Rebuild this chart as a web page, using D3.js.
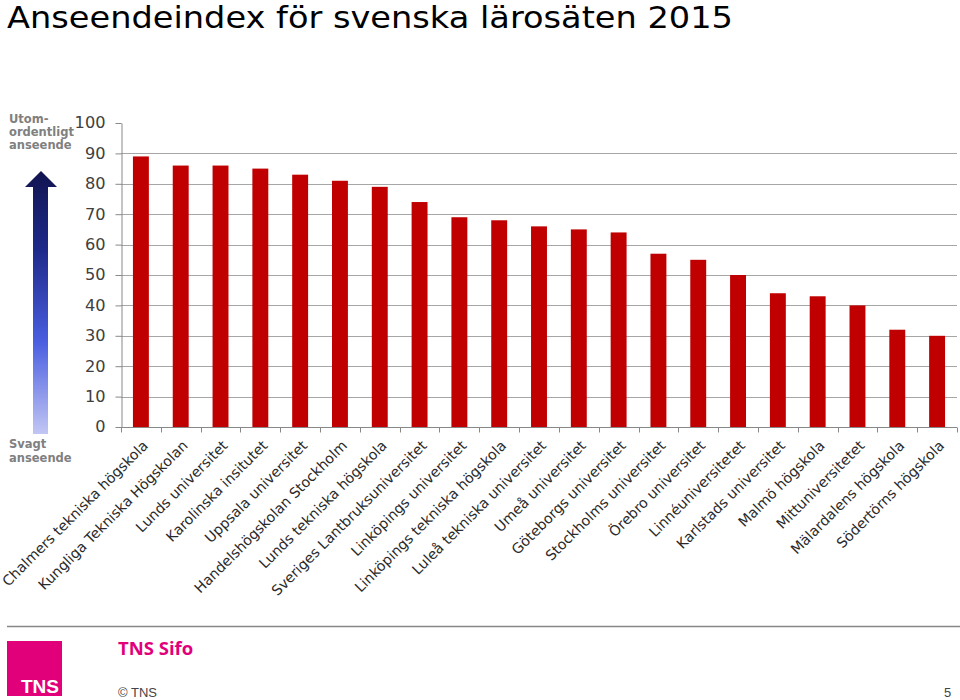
<!DOCTYPE html>
<html><head><meta charset="utf-8">
<script src="https://cdn.jsdelivr.net/npm/d3@7"></script>
<style>
body{margin:0;background:#fff;}
svg{display:block;font-family:"DejaVu Sans",Verdana,sans-serif;}
</style></head>
<body><svg id="c" width="960" height="700"></svg>
<script>
const categories = ["Chalmers tekniska högskola","Kungliga Tekniska Högskolan","Lunds universitet","Karolinska insitutet","Uppsala universitet","Handelshögskolan Stockholm","Lunds tekniska högskola","Sveriges Lantbruksuniversitet","Linköpings universitet","Linköpings tekniska högskola","Luleå tekniska universitet","Umeå universitet","Göteborgs universitet","Stockholms universitet","Örebro universitet","Linnéuniversitetet","Karlstads universitet","Malmö högskola","Mittuniversitetet","Mälardalens högskola","Södertörns högskola"];
const values = [89,86,86,85,83,81,79,74,69,68,66,65,64,57,55,50,44,43,40,32,30];
const yTicks = [0,10,20,30,40,50,60,70,80,90,100];
const title = "Anseendeindex för svenska lärosäten 2015";

const svg = d3.select("#c");
const x0 = 121, x1 = 957, yTop = 123, yBot = 427;
const x = d3.scaleBand().domain(categories).range([x0, x1]).paddingInner(0.6).paddingOuter(0.3);
const y = d3.scaleLinear().domain([0,100]).range([yBot, yTop]);

svg.append("text").attr("x",7).attr("y",28).attr("font-size",31)
  .attr("textLength",726).attr("lengthAdjust","spacingAndGlyphs").attr("fill","#000").text(title);

// gridlines
svg.append("g").selectAll("line").data(yTicks.filter(t=>t>0&&t<100)).join("line")
  .attr("x1",x0).attr("x2",x1).attr("y1",d=>Math.round(y(d))+0.5).attr("y2",d=>Math.round(y(d))+0.5)
  .attr("stroke","#a6a6a6").attr("stroke-width",1);

// bars
svg.append("g").selectAll("rect").data(values).join("rect")
  .attr("x",(d,i)=>x(categories[i])).attr("width",x.bandwidth())
  .attr("y",d=>y(d)).attr("height",d=>yBot-y(d)).attr("fill","#c00000");

// y axis
const ya = svg.append("g").attr("transform",`translate(${x0+0.5},0)`)
  .call(d3.axisLeft(y).tickValues(yTicks).tickSize(6).tickPadding(10).tickSizeOuter(0));
ya.attr("font-family",null).attr("font-size",null);
ya.select(".domain").attr("stroke","#888");
ya.selectAll(".tick line").attr("stroke","#888");
ya.selectAll(".tick text").attr("font-size",15.5).attr("fill","#404040")
  .attr("font-family","DejaVu Sans, Verdana, sans-serif")
  .attr("textLength",d=>String(d).length*10.3).attr("lengthAdjust","spacingAndGlyphs");

// x axis
const xb = d3.scaleBand().domain(categories).range([x0, x1]);
const xg = svg.append("g").attr("transform",`translate(0,${yBot+0.5})`);
xg.append("line").attr("x1",x0).attr("x2",x1).attr("stroke","#888");
xg.selectAll("line.t").data(categories.concat(["_end"])).join("line").attr("class","t")
  .attr("x1",(d,i)=>Math.round(x0+i*xb.step())+0.5).attr("x2",(d,i)=>Math.round(x0+i*xb.step())+0.5)
  .attr("y1",0).attr("y2",5).attr("stroke","#888");
xg.selectAll("text").data(categories).join("text")
  .attr("transform",d=>`translate(${xb(d)+xb.bandwidth()/2+8},${19}) rotate(-45)`)
  .attr("text-anchor","end").attr("font-size",14.2).attr("fill","#2a2a2a").text(d=>d);

// left annotations
const ann = svg.append("g").attr("font-size",11.5).attr("font-weight","bold").attr("fill","#808080");
[["Utom-",123],["ordentligt",136],["anseende",149],["Svagt",448],["anseende",462]].forEach(([t,yy])=>
  ann.append("text").attr("x",9).attr("y",yy).text(t));

// arrow with gradient
const defs = svg.append("defs");
const g = defs.append("linearGradient").attr("id","ag").attr("x1",0).attr("x2",0).attr("y1",0).attr("y2",1);
g.append("stop").attr("offset","0%").attr("stop-color","#121450");
g.append("stop").attr("offset","30%").attr("stop-color","#1e2a8a");
g.append("stop").attr("offset","65%").attr("stop-color","#4a5ee0");
g.append("stop").attr("offset","100%").attr("stop-color","#c2c6f4");
svg.append("path").attr("d","M41,171 L57,187 L48,187 L48,434 L33,434 L33,187 L25,187 Z").attr("fill","url(#ag)");

// footer
svg.append("line").attr("x1",7).attr("x2",960).attr("y1",626.5).attr("y2",626.5).attr("stroke","#888").attr("stroke-width",1.5);
svg.append("rect").attr("x",7).attr("y",641).attr("width",55).attr("height",55).attr("fill","#e2007a");
svg.append("text").attr("x",40).attr("y",693).attr("text-anchor","middle").attr("font-family","Liberation Sans Narrow, Liberation Sans, Arial, sans-serif").attr("font-weight","bold").attr("font-size",19).attr("fill","#fff").text("TNS");
svg.append("text").attr("x",118).attr("y",655).attr("font-family","Open Sans, Liberation Sans, sans-serif").attr("font-weight","bold").attr("font-size",18.5).attr("fill","#e2007a").text("TNS Sifo");
svg.append("text").attr("x",118).attr("y",697).attr("font-family","Liberation Sans, Arial, sans-serif").attr("font-size",13).attr("fill","#444").text("© TNS");
svg.append("text").attr("x",944).attr("y",697).attr("font-family","Liberation Sans, Arial, sans-serif").attr("font-size",13).attr("fill","#444").text("5");
</script></body></html>
